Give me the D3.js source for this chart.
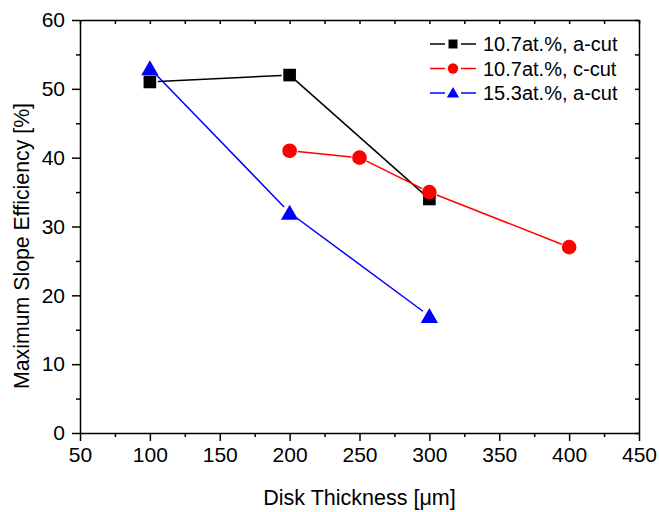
<!DOCTYPE html>
<html>
<head>
<meta charset="utf-8">
<script src="https://cdn.jsdelivr.net/npm/d3@7"></script>
<style>
  body { margin: 0; background: #fff; }
  text { font-family: "Liberation Sans", Arial, sans-serif; }
</style>
</head>
<body>
<div id="chart"></div>
<script>
// data
const seriesNames = ["10.7at.%, a-cut", "10.7at.%, c-cut", "15.3at.%, a-cut"];
const seriesColors = ["#000000", "#ff0000", "#0000ff"];
const seriesShapes = ["square", "circle", "triangle"];
const thickA107 = [100, 200, 300];
const effA107 = [51, 52, 34];
const thickC107 = [200, 250, 300, 400];
const effC107 = [41, 40, 35, 27];
const thickA153 = [100, 200, 300];
const effA153 = [53, 32, 17];
const xTicks = [50, 100, 150, 200, 250, 300, 350, 400, 450];
const yTicks = [0, 10, 20, 30, 40, 50, 60];

const series = [
  { x: thickA107, y: effA107 },
  { x: thickC107, y: effC107 },
  { x: thickA153, y: effA153 }
].map((s, i) => ({
  name: seriesNames[i], color: seriesColors[i], shape: seriesShapes[i],
  pts: s.x.map((v, j) => ({ x: v, y: s.y[j] }))
}));

const width = 659, height = 512;
const margin = { top: 20, right: 20, bottom: 79, left: 80 };
const svg = d3.select("#chart").append("svg").attr("width", width).attr("height", height);
const pw = width - margin.left - margin.right;
const ph = height - margin.top - margin.bottom;
const g = svg.append("g").attr("transform", `translate(${margin.left},${margin.top})`);

const x = d3.scaleLinear().domain([50, 450]).range([0, pw]);
const y = d3.scaleLinear().domain([0, 60]).range([ph, 0]);

const xMinor = d3.range(75, 450, 50);
const yMinor = d3.range(5, 60, 10);

// bottom axis
g.append("g").attr("transform", `translate(0,${ph})`)
  .call(d3.axisBottom(x).tickValues(xTicks).tickSize(8).tickSizeOuter(0).tickPadding(6))
  .call(a => a.selectAll("text").attr("font-size", 21).attr("fill", "#000"));
g.append("g").attr("transform", `translate(0,${ph})`)
  .call(d3.axisBottom(x).tickValues(xMinor).tickSize(4).tickFormat(""))
  .call(a => a.select(".domain").remove());
// left axis
g.append("g")
  .call(d3.axisLeft(y).tickValues(yTicks).tickSize(8).tickSizeOuter(0).tickPadding(7))
  .call(a => a.selectAll("text").attr("font-size", 21).attr("fill", "#000"));
g.append("g")
  .call(d3.axisLeft(y).tickValues(yMinor).tickSize(4).tickFormat(""))
  .call(a => a.select(".domain").remove());
// top axis, ticks inward
g.append("g")
  .call(d3.axisBottom(x).tickValues(xTicks.concat(xMinor)).tickSize(4).tickSizeOuter(0).tickFormat(""));
// right axis, ticks inward
g.append("g").attr("transform", `translate(${pw},0)`)
  .call(d3.axisLeft(y).tickValues(yTicks.concat(yMinor)).tickSize(4).tickSizeOuter(0).tickFormat(""));
g.selectAll(".domain, .tick line").attr("stroke", "#000").attr("stroke-width", 1.5);

// symbols
const symType = { square: d3.symbolSquare, circle: d3.symbolCircle, triangle: d3.symbolTriangle };
const symSize = { square: 160, circle: 170, triangle: 130 };
const gapR = { square: 8, circle: 8, triangle: 8 };

function drawSym(sel, s, cx, cy) {
  const off = s.shape === "triangle" ? 2 : 0;
  sel.append("path")
    .attr("d", d3.symbol().type(symType[s.shape]).size(symSize[s.shape]))
    .attr("transform", `translate(${cx},${cy + off})`)
    .attr("fill", s.color);
}

series.forEach(s => {
  const p = s.pts.map(d => [x(d.x), y(d.y)]);
  for (let i = 0; i < p.length - 1; i++) {
    const [x0, y0] = p[i], [x1, y1] = p[i + 1];
    const len = Math.hypot(x1 - x0, y1 - y0);
    const ux = (x1 - x0) / len, uy = (y1 - y0) / len;
    const r = gapR[s.shape];
    g.append("line")
      .attr("x1", x0 + ux * r).attr("y1", y0 + uy * r)
      .attr("x2", x1 - ux * r).attr("y2", y1 - uy * r)
      .attr("stroke", s.color).attr("stroke-width", 1.5);
  }
  p.forEach(([cx, cy]) => drawSym(g, s, cx, cy));
});

// legend
const lg = svg.append("g").attr("transform", "translate(430,44)");
series.forEach((s, i) => {
  const row = lg.append("g").attr("transform", `translate(0,${i * 24.5})`);
  row.append("line").attr("x1", 0).attr("x2", 15).attr("stroke", s.color).attr("stroke-width", 1.5);
  row.append("line").attr("x1", 31).attr("x2", 46).attr("stroke", s.color).attr("stroke-width", 1.5);
  const off = s.shape === "triangle" ? 1 : 0;
  row.append("path")
    .attr("d", d3.symbol().type(symType[s.shape]).size(symSize[s.shape] * 0.5))
    .attr("transform", `translate(23,${off})`)
    .attr("fill", s.color);
  row.append("text").attr("x", 53).attr("y", 7).attr("font-size", 20).attr("fill", "#000").text(s.name);
});

// axis titles
svg.append("text").attr("x", margin.left + pw / 2).attr("y", 505)
  .attr("text-anchor", "middle").attr("font-size", 21.5).text("Disk Thickness [\u03bcm]");
svg.append("text").attr("transform", "translate(29,246) rotate(-90)")
  .attr("text-anchor", "middle").attr("font-size", 21.3).text("Maximum Slope Efficiency [%]");
</script>
</body>
</html>
